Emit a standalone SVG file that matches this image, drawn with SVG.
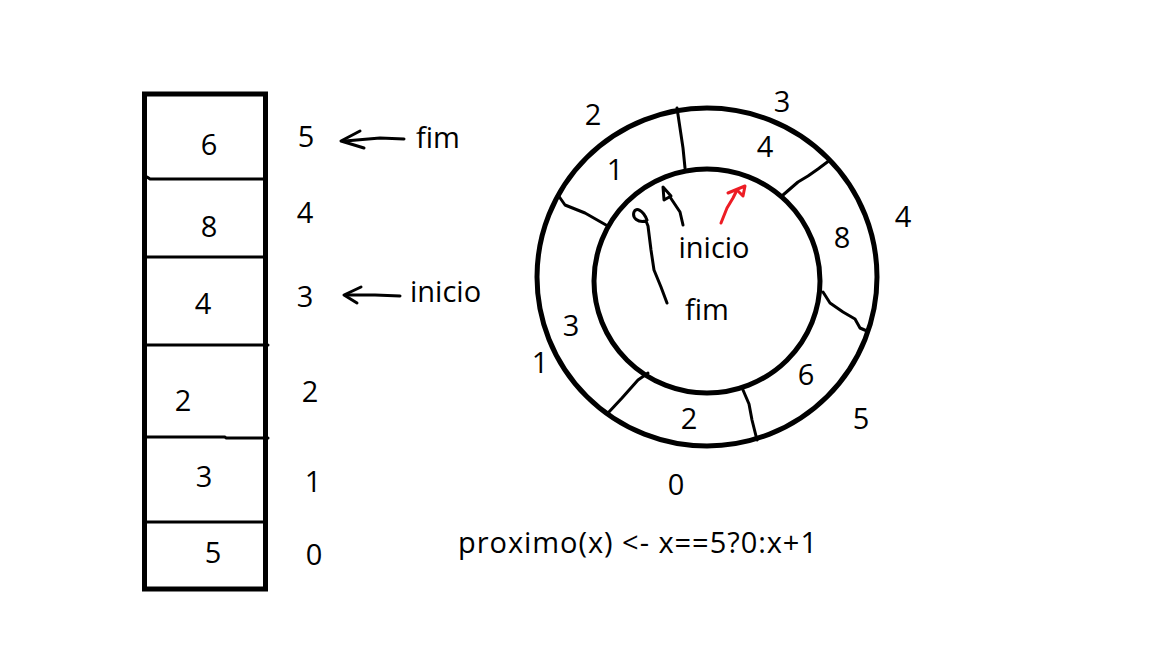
<svg xmlns="http://www.w3.org/2000/svg" width="1152" height="648" viewBox="0 0 1152 648">
<style>
text { font-family: "Open Sans", "Liberation Sans", sans-serif; font-size: 29px; fill: #000; }
.c { text-anchor: middle; }
.thick { fill: none; stroke: #000; stroke-width: 5; }
.thin { fill: none; stroke: #000; stroke-width: 3; stroke-linecap: round; stroke-linejoin: round; }
.red { fill: none; stroke: #ed1c24; stroke-width: 3; stroke-linecap: round; stroke-linejoin: round; }
</style>
<rect width="1152" height="648" fill="#fff"/>

<g id="array">
  <rect class="thick" x="144.5" y="94" width="121" height="495"/>
  <path class="thin" d="M147,177 L150,179 L265,179"/>
  <path class="thin" d="M145,257 L265,257"/>
  <path class="thin" d="M145,345 L268,345"/>
  <path class="thin" d="M145,437 L225,437 L226,438 L268,438"/>
  <path class="thin" d="M145,522 L265,522"/>
  <text class="c" x="209" y="155">6</text>
  <text class="c" x="209" y="237">8</text>
  <text class="c" x="203" y="314">4</text>
  <text class="c" x="183" y="411">2</text>
  <text class="c" x="204" y="487">3</text>
  <text class="c" x="213" y="563">5</text>
</g>

<g id="array-index">
  <text class="c" x="306" y="147">5</text>
  <text class="c" x="305" y="223">4</text>
  <text class="c" x="305" y="307">3</text>
  <text class="c" x="310" y="402">2</text>
  <text class="c" x="313" y="492">1</text>
  <text class="c" x="314" y="565">0</text>
</g>

<g id="label-fim-array"><text x="416" y="148">fim</text></g>
<g id="label-inicio-array"><text x="410" y="302">inicio</text></g>

<g id="ring">
  <ellipse class="thick" cx="707" cy="277" rx="170" ry="169"/>
  <ellipse class="thick" cx="707" cy="281" rx="113" ry="112"/>
  <path class="thin" d="M677,108 L680,128 L683,148 L685,168"/>
  <path class="thin" d="M830,160 L818,169 L808,176 L798,182 L783,195"/>
  <path class="thin" d="M558,195 L565,205 L585,213 L606,225"/>
  <path class="thin" d="M823,292 L830,303 L843,312 L855,319 L860,328 L867,331"/>
  <path class="thin" d="M648,373 L638,380 L622,398 L608,413"/>
  <path class="thin" d="M743,390 L749,404 L752,420 L757,440"/>
  <text class="c" x="615" y="180">1</text>
  <text class="c" x="765" y="157">4</text>
  <text class="c" x="842" y="248">8</text>
  <text class="c" x="806" y="385">6</text>
  <text class="c" x="689" y="429">2</text>
  <text class="c" x="571" y="336">3</text>
</g>

<g id="ring-index">
  <text class="c" x="593" y="125">2</text>
  <text class="c" x="782" y="112">3</text>
  <text class="c" x="903" y="227">4</text>
  <text class="c" x="861" y="429">5</text>
  <text class="c" x="676" y="495">0</text>
  <text class="c" x="540" y="373">1</text>
</g>

<g id="label-inicio-ring"><text class="c" x="714" y="258">inicio</text></g>
<g id="label-fim-ring"><text class="c" x="707" y="320">fim</text></g>

<g id="formula"><text x="458" y="553" font-size="30" textLength="359">proximo(x) &lt;- x==5?0:x+1</text></g>

<g id="connectors">
  <path class="thin" d="M404,139 L380,138 L345,141"/>
  <path class="thin" d="M360,131 L341,141 L364,148"/>
  <path class="thin" d="M400,296 L375,295 L346,295"/>
  <path class="thin" d="M361,287 L344,295 L357,303"/>
  <path class="thin" d="M683,225 L680,212 L670,197"/>
  <path class="thin" stroke-width="3.5" d="M663,187 L664,200 L671,196 Z"/>
  <path class="thin" d="M667,303 L661,287 L654,270 L651,250 L648,226 L646,221 C638,223 632,218 634,212 C636,207 643,210 647,220"/>
  <path class="red" d="M721,223 L727,208 L733,198 L737,190"/>
  <path class="red" d="M728,193 L745,186 L743,196 L737,190"/>
</g>
</svg>
